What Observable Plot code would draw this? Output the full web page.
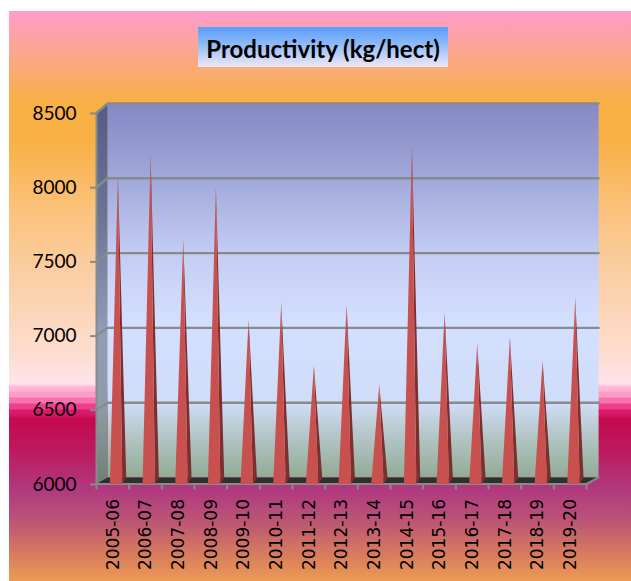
<!DOCTYPE html>
<html>
<head>
<meta charset="utf-8">
<script src="https://cdn.jsdelivr.net/npm/d3@7"></script>
<script src="https://cdn.jsdelivr.net/npm/@observablehq/plot@0.6"></script>
<style>
html,body{margin:0;padding:0;background:#fff;overflow:hidden}
#page{position:relative;width:631px;height:581px}
#bg{position:absolute;left:9px;top:11px;right:0;bottom:0;background:linear-gradient(180deg,
 #ff9ccb 0px,#fba68f 40px,#f8b045 92px,#f8b045 130px,#fac27c 200px,#fbd0a8 270px,#fddbc8 330px,#fee3ea 373px,
 #ffb5d3 376px,#ffb5d3 380px,#fd9cc4 381px,#fd9cc4 386px,#f873ae 387px,#f873ae 392px,#ee3f8c 393px,#ee3f8c 398px,#d91a68 399px,#d91a68 403px,
 #c4084f 408px,#bd1a5f 440px,#b03a80 480px,#bb5575 510px,#d5785f 540px,#ec9a55 570px)}
#title{position:absolute;left:198px;top:27px;width:250px;height:40px;text-align:center;
 font:bold 24px/44px Lato,"Open Sans",sans-serif;color:#000;
 background:linear-gradient(180deg,#5a9dfc 0%,#8ab8f6 40%,#f0e8f6 100%)}
#chart{position:absolute;left:0;top:0}
svg{background:transparent !important}
</style>
</head>
<body>
<div id="page">
  <div id="bg"></div>
  <div id="chart"></div>
  <div id="title">Productivity (kg/hect)</div>
</div>
<script>
const categories = ["2005-06","2006-07","2007-08","2008-09","2009-10","2010-11","2011-12","2012-13","2013-14","2014-15","2015-16","2016-17","2017-18","2018-19","2019-20"];
const productivity = [8048,8190,7617,7968,7078,7190,6768,7180,6640,8245,7125,6917,6957,6800,7226];
const yTicks = [6000,6500,7000,7500,8000,8500];

// Depth of the 3-D box, in scale units
const back = v => v + 44 + (v - 6000) * 0.008;
const backLeft = 0.337, backRight = 15.37;

const poly = (key, pts) => pts.map(([x, y]) => ({key, x, y}));
const shape = (pts, o) => Plot.line(pts, {x: "x", y: "y", z: "key", curve: "linear", stroke: "none", ...o});

const faceFront = [], faceSide = [];
productivity.forEach((v, i) => {
  const tip = v + 30;
  faceFront.push(...poly(i, [[i + 0.41, 6000], [i + 0.655, tip], [i + 0.79, 6000]]));
  faceSide.push(...poly(i, [[i + 0.79, 6000], [i + 0.655, tip], [i + 0.91, 6042]]));
});

const grid = yTicks.filter(v => v > 6000).flatMap(v => poly(v, [[0, v], [backLeft, back(v)], [backRight, back(v)]]));

const defs = () => {
  const ns = "http://www.w3.org/2000/svg";
  const d = document.createElementNS(ns, "defs");
  const add = (id, stops) => {
    const g = document.createElementNS(ns, "linearGradient");
    g.setAttribute("id", id); g.setAttribute("x1", 0); g.setAttribute("x2", 0); g.setAttribute("y1", 0); g.setAttribute("y2", 1);
    stops.forEach(([o, c]) => {
      const s = document.createElementNS(ns, "stop");
      s.setAttribute("offset", o); s.setAttribute("stop-color", c); g.appendChild(s);
    });
    d.appendChild(g);
  };
  add("wall", [[0, "#8488c4"], [0.2, "#a1a8da"], [0.4, "#c3cdf2"], [0.58, "#d3dfff"], [0.8, "#d0ddf8"], [0.88, "#b6c8cc"], [1, "#92ab94"]]);
  add("side", [[0, "#565a86"], [0.3, "#6c7498"], [0.6, "#8f9db8"], [0.8, "#8c9ca6"], [1, "#6f8072"]]);
  return d;
};

const chart = Plot.plot({
  width: 631,
  height: 581,
  marginLeft: 96,
  marginRight: 45,
  marginTop: 112.5,
  marginBottom: 97.5,
  style: {background: "transparent", overflow: "visible"},
  x: {type: "linear", domain: [0, 15]},
  y: {type: "linear", domain: [6000, 8500]},
  marks: [
    defs,
    shape(poly("wall", [[backLeft, back(8500)], [backRight, back(8500)], [backRight, back(6000)], [backLeft, back(6000)]]), {fill: "url(#wall)"}),
    shape(poly("side", [[0, 8500], [backLeft, back(8500)], [backLeft, back(6000)], [0, 6000]]), {fill: "url(#side)"}),
    shape(poly("floor", [[0, 6000], [backLeft, back(6000)], [backRight, back(6000)], [15, 6000]]), {fill: "#2f2f2f"}),
    Plot.line(grid, {x: "x", y: "y", z: "key", curve: "linear", stroke: "#878b8b", strokeWidth: 2.4}),
    Plot.line(poly("axis", [[0, 8500], [0, 6000], [15, 6000], [backRight, back(6000)]]), {x: "x", y: "y", z: "key", curve: "linear", stroke: "#878b8b", strokeWidth: 2}),
    shape(faceSide, {fill: "#7c2f2f"}),
    shape(faceFront, {fill: "#c8504f"}),
    Plot.axisY({ticks: yTicks, tickSize: 6, tickPadding: 14, dy: 0.5, stroke: "#878b8b", strokeWidth: 2, fontSize: 19, fontFamily: "Lato, 'Open Sans', sans-serif", label: null, tickFormat: d => String(d)}),
    Plot.axisX({ticks: d3.range(16), tickSize: 6, stroke: "#878b8b", strokeWidth: 2, tickFormat: () => "", label: null}),
    Plot.axisX({ticks: d3.range(15).map(i => i + 0.5), tickSize: 0, tickPadding: 15, tickRotate: -90, dx: 0.5, fontSize: 17, fontFamily: "'DejaVu Sans', sans-serif", tickFormat: d => categories[d - 0.5], label: null})
  ]
});
document.getElementById("chart").appendChild(chart);
</script>
</body>
</html>
